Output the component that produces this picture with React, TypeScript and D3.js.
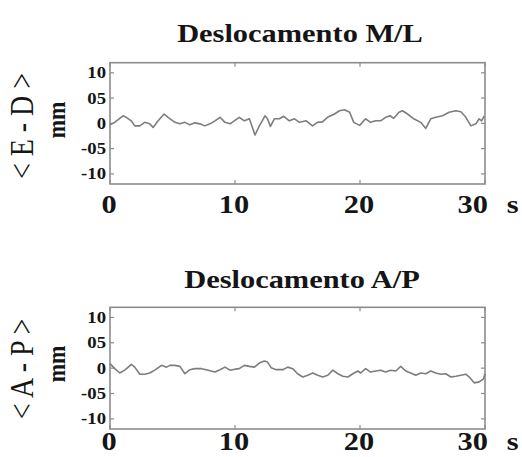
import React from "react";
import * as d3 from "d3";

// ---- data ----
const mlTime = [0, 0.37, 1.04, 1.3, 1.7, 1.98, 2.38, 2.78, 3.18, 3.45, 3.85, 4.33, 4.65, 5.19, 5.59, 5.99, 6.39, 6.79, 7.19, 7.59, 7.99, 8.4, 8.8, 9.2, 9.6, 10.0, 10.34, 10.75, 11.15, 11.6, 11.95, 12.4, 12.6, 12.83, 13.15, 13.55, 13.9, 14.35, 14.76, 15.16, 15.7, 16.2, 16.6, 17.0, 17.4, 17.96, 18.36, 18.77, 19.17, 19.5, 19.97, 20.45, 20.85, 21.25, 21.65, 22.05, 22.4, 22.7, 23.12, 23.4, 23.8, 24.3, 24.86, 25.26, 25.66, 26.06, 26.6, 27.13, 27.67, 28.07, 28.47, 28.87, 29.27, 29.53, 29.73, 29.94];
const mlValue = [-0.3, 0.2, 1.5, 1.2, 0.5, -0.5, -0.5, 0.2, -0.1, -0.8, 0.5, 1.85, 1.2, 0.2, -0.1, 0.2, -0.3, 0.1, -0.1, -0.5, -0.1, 0.5, 1.2, 0.2, -0.1, 0.6, 1.2, 0.5, 0.9, -2.3, -0.5, 1.5, 0.9, -0.6, 0.9, 0.9, 1.4, 0.5, 0.9, 0.2, 0.5, -0.5, 0.2, 0.3, 1.2, 1.85, 2.5, 2.7, 2.2, 0.2, -0.4, 0.9, 0.2, 0.5, 0.5, 1.2, 1.5, 1.0, 2.2, 2.5, 1.85, 0.9, 0.2, -1.0, 0.9, 1.2, 1.5, 2.2, 2.5, 2.3, 1.2, -0.5, -0.1, 0.9, 0.5, 1.5];

const apTime = [0, 0.38, 0.78, 1.18, 1.71, 1.98, 2.38, 2.78, 3.18, 3.58, 4.12, 4.52, 4.79, 5.19, 5.59, 5.99, 6.39, 6.79, 7.33, 7.86, 8.4, 8.8, 9.2, 9.6, 10.0, 10.34, 10.75, 11.15, 11.55, 11.95, 12.35, 12.6, 12.89, 13.3, 13.82, 14.22, 14.62, 15.0, 15.42, 15.82, 16.22, 16.62, 17.02, 17.42, 17.83, 18.23, 18.63, 19.03, 19.43, 19.83, 20.05, 20.45, 20.85, 21.25, 21.65, 22.05, 22.45, 22.86, 23.26, 23.66, 24.06, 24.46, 24.86, 25.26, 25.66, 26.06, 26.47, 26.87, 27.27, 27.67, 28.07, 28.47, 28.74, 29.13, 29.53, 29.88, 30.0];
const apValue = [0.9, -0.1, -0.96, -0.4, 0.75, 0.2, -1.2, -1.2, -0.96, -0.4, 0.55, 0.2, 0.55, 0.55, 0.35, -1.1, -0.3, -0.1, -0.1, -0.4, -0.77, -0.3, 0.2, -0.4, -0.2, -0.1, 0.55, 0.35, 0.2, 1.0, 1.4, 1.2, 0.1, -0.3, -0.3, 0.2, -0.1, -1.1, -1.75, -1.4, -0.96, -1.4, -1.75, -1.4, -0.4, -1.1, -1.6, -1.75, -1.1, -0.56, -0.96, -0.1, -0.77, -0.56, -0.4, -0.77, -0.4, -0.56, 0.35, -0.56, -0.96, -1.4, -0.96, -1.1, -0.56, -0.96, -1.2, -1.1, -1.75, -1.6, -1.4, -1.2, -1.75, -2.9, -2.7, -2.1, -1.1];

const xTicks = [0, 10, 20, 30];
const xTickLabels = ["0", "10", "20", "30 s"];
const yTicks = [10, 5, 0, -5, -10];
const yTickLabels = ["10", "05", "0", "-05", "-10"];

const panels = [
  { title: "Deslocamento M/L", yLabel: "< E - D >", unit: "mm", time: mlTime, value: mlValue },
  { title: "Deslocamento A/P", yLabel: "< A - P >", unit: "mm", time: apTime, value: apValue },
];

// ---- layout ----
const W = 522;
const H = 457;
const SX = 1.17; // horizontal stretch of text
const FONT = "'Liberation Serif', 'Times New Roman', serif";
const layouts = [
  { top: 62.7, bottom: 184, titleY: 42, titleX: 300, xLabY: 213, yLabCY: 126, unitCY: 120 },
  { top: 307.3, bottom: 429, titleY: 288, titleX: 302, xLabY: 450, yLabCY: 369, unitCY: 364 },
];
const LEFT = 110;
const RIGHT = 485;
const BOX = "#8c8c8c";
const LINE = "#7d7d7d";
const INK = "#151515";

function Panel({ p, L }: { p: typeof panels[0]; L: typeof layouts[0] }) {
  const x = d3.scaleLinear().domain([0, 30]).range([LEFT, RIGHT]);
  const y = d3.scaleLinear().domain([-12, 12]).range([L.bottom, L.top]);
  const pts = p.time.map((t, i) => [t, p.value[i]] as [number, number]);
  const line = d3.line<[number, number]>().x((d) => x(d[0])).y((d) => y(d[1]));
  const tk = 4;
  return (
    <g>
      <text
        transform={`translate(${L.titleX},${L.titleY}) scale(${SX},1)`}
        textAnchor="middle"
        fontFamily={FONT}
        fontWeight="bold"
        fontSize={26}
        fill={INK}
      >
        {p.title}
      </text>
      <text
        transform={`translate(33,${L.yLabCY}) scale(${SX},1) rotate(-90)`}
        textAnchor="middle"
        fontFamily={FONT}
        fontSize={28}
        fill={INK}
      >
        {p.yLabel}
      </text>
      <text
        transform={`translate(65,${L.unitCY}) scale(${SX},1) rotate(-90)`}
        textAnchor="middle"
        fontFamily={FONT}
        fontWeight="bold"
        fontSize={22}
        fill={INK}
      >
        {p.unit}
      </text>
      {/* y ticks */}
      {yTicks.map((v, i) => (
        <g key={"y" + i}>
          <line x1={LEFT} x2={LEFT + tk} y1={y(v)} y2={y(v)} stroke={BOX} strokeWidth={1.2} />
          <line x1={RIGHT} x2={RIGHT - tk} y1={y(v)} y2={y(v)} stroke={BOX} strokeWidth={1.2} />
          <text
            transform={`translate(${LEFT - 4},${y(v) + 5.5}) scale(${SX},1)`}
            textAnchor="end"
            fontFamily={FONT}
            fontWeight="bold"
            fontSize={16}
            fill={INK}
          >
            {yTickLabels[i]}
          </text>
        </g>
      ))}
      {/* x ticks */}
      {xTicks.map((v, i) => {
        const parts = xTickLabels[i].split(" ");
        return (
          <g key={"x" + i}>
            <line x1={x(v)} x2={x(v)} y1={L.top} y2={L.top + tk} stroke={BOX} strokeWidth={1.2} />
            <line x1={x(v)} x2={x(v)} y1={L.bottom} y2={L.bottom - tk} stroke={BOX} strokeWidth={1.2} />
            <text
              transform={`translate(${x(v) + (parts.length > 1 ? 3 : -1)},${L.xLabY}) scale(${SX},1)`}
              textAnchor="middle"
              fontFamily={FONT}
              fontWeight="bold"
              fontSize={26}
              fill={INK}
            >
              <tspan>{parts[0]}</tspan>
              {parts.length > 1 ? <tspan dx={16}>{parts[1]}</tspan> : null}
            </text>
          </g>
        );
      })}
      <rect x={LEFT} y={L.top} width={RIGHT - LEFT} height={L.bottom - L.top} fill="none" stroke={BOX} strokeWidth={1.6} />
      <path d={line(pts) || ""} fill="none" stroke={LINE} strokeWidth={1.6} strokeLinejoin="round" />
    </g>
  );
}

export default function App() {
  return (
    <svg
      width={W}
      height={H}
      viewBox={`0 0 ${W} ${H}`}
      style={{ position: "absolute", left: 0, top: 0, background: "#fff" }}
    >
      <rect width={W} height={H} fill="#fff" />
      {panels.map((p, i) => (
        <Panel key={i} p={p} L={layouts[i]} />
      ))}
    </svg>
  );
}
